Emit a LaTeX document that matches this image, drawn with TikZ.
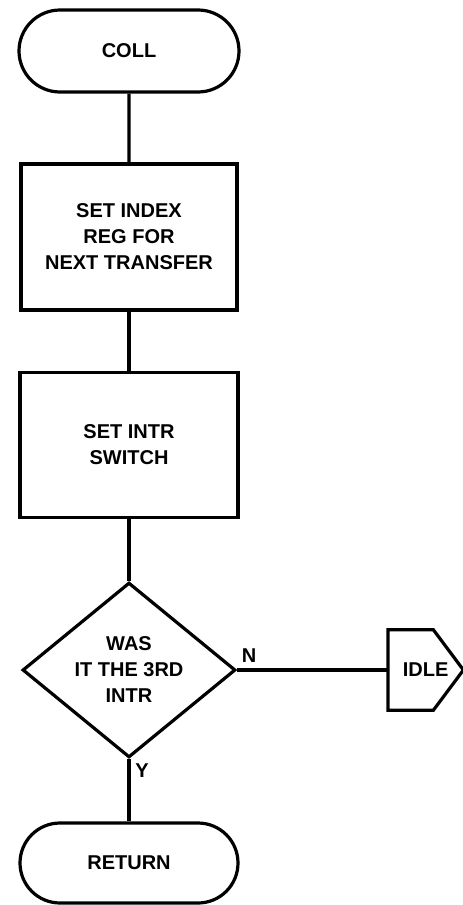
\documentclass[tikz,border=0pt]{standalone}
\usepackage{fontspec}
\setmainfont{Liberation Sans}
\usetikzlibrary{shapes.geometric,shapes.misc}

\begin{document}
\begin{tikzpicture}[x=1pt,y=-1pt]
\tikzset{
  flowfont/.style={font=\fontsize{20}{26}\selectfont\bfseries},
  termnode/.style={rounded rectangle,draw,line width=3.2pt,inner sep=0pt,flowfont},
  procnode/.style={rectangle,draw,line width=3.2pt,inner sep=0pt,align=center,flowfont},
  decnode/.style={diamond,draw,line width=3.2pt,inner sep=0pt,align=center,flowfont},
  pagenode/.style={rectangle,inner sep=0pt,flowfont},
  flowline/.style={line width=3.2pt,line join=miter},
  branch/.style={flowfont,inner sep=0pt}
}
\useasboundingbox (0,0) rectangle (463,905);
\node[termnode,minimum width=220pt,minimum height=82pt] (n_coll) at (129,51) {COLL};
\node[procnode,minimum width=216pt,minimum height=146pt] (n_index) at (129,237) {SET INDEX\\REG FOR\\NEXT TRANSFER};
\node[procnode,minimum width=218pt,minimum height=145pt] (n_switch) at (129,445) {SET INTR\\SWITCH};
\node[decnode,minimum width=213pt,minimum height=163pt] (n_third) at (129,670) {WAS\\IT THE 3RD\\INTR};
\node[pagenode,minimum width=75pt,minimum height=80pt,anchor=west] (n_idle) at (388,670) {IDLE};
\node[termnode,minimum width=218pt,minimum height=80pt] (n_return) at (129,863) {RETURN};
% off-page connector outline
\draw[flowline] (n_idle.north west) -- ([xshift=-30pt]n_idle.north east) -- (n_idle.east)
  -- ([xshift=-30pt]n_idle.south east) -- (n_idle.south west) -- cycle;
\draw[flowline] (n_coll) -- (n_index);
\draw[flowline] (n_index) -- (n_switch);
\draw[flowline] (n_switch) -- (n_third);
\draw[flowline] (n_third) -- (n_idle);
\draw[flowline] (n_third) -- (n_return);
\node[branch] (n_no) at (249,656) {N};
\node[branch] (n_yes) at (142,771) {Y};
\end{tikzpicture}
\end{document}
